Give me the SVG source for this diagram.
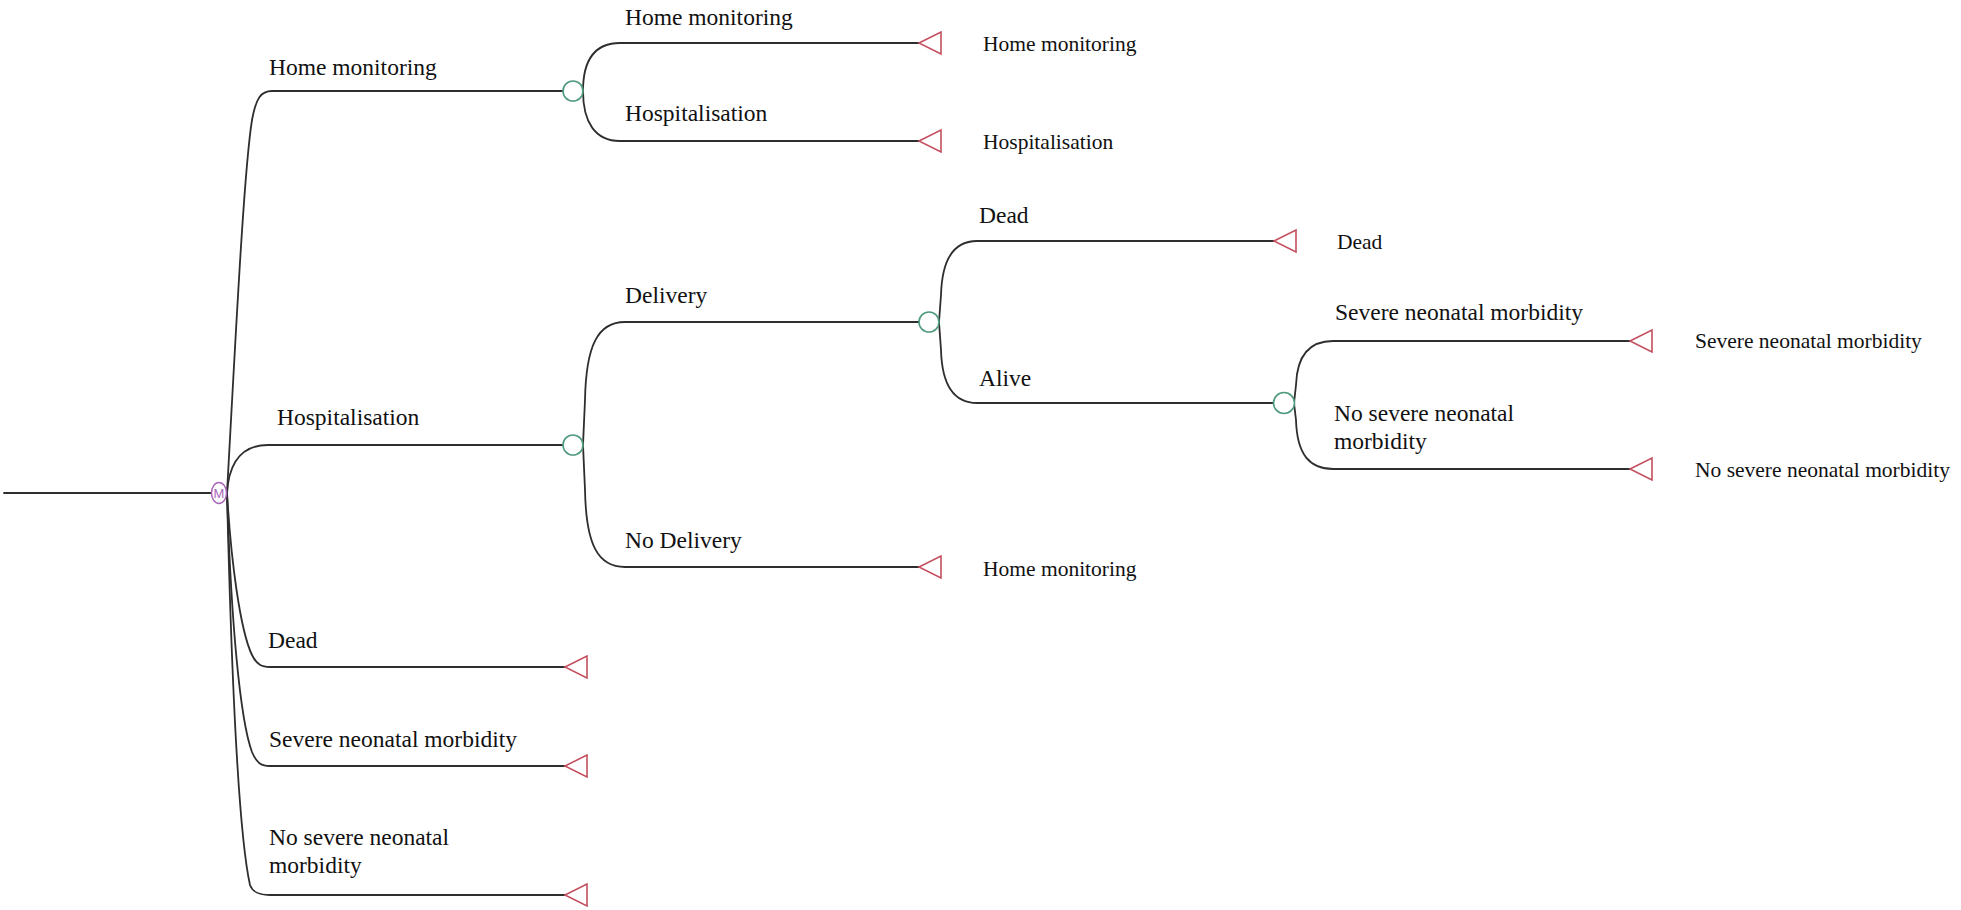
<svg xmlns="http://www.w3.org/2000/svg" width="1961" height="910" viewBox="0 0 1961 910">
<style>
.ln{fill:none;stroke:#2e2e2e;stroke-width:1.8;stroke-linecap:round}
.ch{fill:#fff;stroke:#4f9a7c;stroke-width:1.6}
.tm{fill:#fff;stroke:#c4505f;stroke-width:1.6;stroke-linejoin:miter}
.mk{fill:#fff;stroke:#a866b8;stroke-width:1.5}
.bl{font-family:"Liberation Serif","Times New Roman",serif;font-size:23.5px;fill:#111}
.tl{font-family:"Liberation Serif","Times New Roman",serif;font-size:21.5px;fill:#111}
.mt{font-family:"Liberation Sans",Arial,sans-serif;font-size:13px;fill:#a866b8;text-anchor:middle}
</style>
<rect width="1961" height="910" fill="#fff"/>
<g id="connectors">
<path class="ln" d="M4 493 H211"/>
<path class="ln" d="M227 493 C236 330 244 170 252 120 C256 98 261 91 272 91 H563"/>
<path class="ln" d="M227 493 C229 462 242 445 268 445 H563"/>
<path class="ln" d="M227 493 C231 560 240 630 252 655 C257 665 262 667 270 667 H565"/>
<path class="ln" d="M227 493 C231 620 240 720 252 752 C257 764 262 766 270 766 H565"/>
<path class="ln" d="M227 493 C232 700 240 840 250 885 C253 893 260 895 270 895 H565"/>
<path class="ln" d="M583 91 C583 60 595 43 620 43 H919"/>
<path class="ln" d="M583 91 C583 122 595 141 620 141 H919"/>
<path class="ln" d="M583 445 L585 400 C586 345 598 322 625 322 H919"/>
<path class="ln" d="M583 445 L585 490 C586 545 598 567 625 567 H919"/>
<path class="ln" d="M939 322 L941 295 C942 258 955 241 977 241 H1274"/>
<path class="ln" d="M939 322 L941 350 C942 386 955 403 977 403 H1273"/>
<path class="ln" d="M1294 403 L1296 385 C1297 355 1310 341 1333 341 H1630"/>
<path class="ln" d="M1294 403 L1296 420 C1297 455 1310 469 1333 469 H1630"/>
</g>
<g id="markov-root">
<ellipse class="mk" cx="219" cy="493" rx="7.5" ry="10.5"/>
<text class="mt" x="219" y="498">M</text>
</g>
<g id="chance-home">
<circle class="ch" cx="573" cy="91" r="10"/>
</g>
<g id="chance-hosp">
<circle class="ch" cx="573" cy="445" r="10"/>
</g>
<g id="chance-delivery">
<circle class="ch" cx="929" cy="322" r="10"/>
</g>
<g id="chance-alive">
<circle class="ch" cx="1284" cy="403" r="10.5"/>
</g>
<g id="term-home-home">
<polygon class="tm" points="919,43 941,32 941,54"/>
<text class="tl" x="983" y="51">Home monitoring</text>
</g>
<g id="term-home-hosp">
<polygon class="tm" points="919,141 941,130 941,152"/>
<text class="tl" x="983" y="149">Hospitalisation</text>
</g>
<g id="term-nodelivery">
<polygon class="tm" points="919,567 941,556 941,578"/>
<text class="tl" x="983" y="576">Home monitoring</text>
</g>
<g id="term-delivery-dead">
<polygon class="tm" points="1274,241 1296,230 1296,252"/>
<text class="tl" x="1337" y="249">Dead</text>
</g>
<g id="term-severe">
<polygon class="tm" points="1630,341 1652,330 1652,352"/>
<text class="tl" x="1695" y="348">Severe neonatal morbidity</text>
</g>
<g id="term-nosevere">
<polygon class="tm" points="1630,469 1652,458 1652,480"/>
<text class="tl" x="1695" y="477">No severe neonatal morbidity</text>
</g>
<g id="term-dead">
<polygon class="tm" points="565,667 587,656 587,678"/>
</g>
<g id="term-severe-main">
<polygon class="tm" points="565,766 587,755 587,777"/>
</g>
<g id="term-nosevere-main">
<polygon class="tm" points="565,895 587,884 587,906"/>
</g>
<g id="labels">
<text class="bl" x="269" y="75">Home monitoring</text>
<text class="bl" x="277" y="425">Hospitalisation</text>
<text class="bl" x="268" y="648">Dead</text>
<text class="bl" x="269" y="747">Severe neonatal morbidity</text>
<text class="bl" x="269" y="845">No severe neonatal</text>
<text class="bl" x="269" y="873">morbidity</text>
<text class="bl" x="625" y="25">Home monitoring</text>
<text class="bl" x="625" y="121">Hospitalisation</text>
<text class="bl" x="625" y="303">Delivery</text>
<text class="bl" x="625" y="548">No Delivery</text>
<text class="bl" x="979" y="223">Dead</text>
<text class="bl" x="979" y="386">Alive</text>
<text class="bl" x="1335" y="320">Severe neonatal morbidity</text>
<text class="bl" x="1334" y="421">No severe neonatal</text>
<text class="bl" x="1334" y="449">morbidity</text>
</g>
</svg>
